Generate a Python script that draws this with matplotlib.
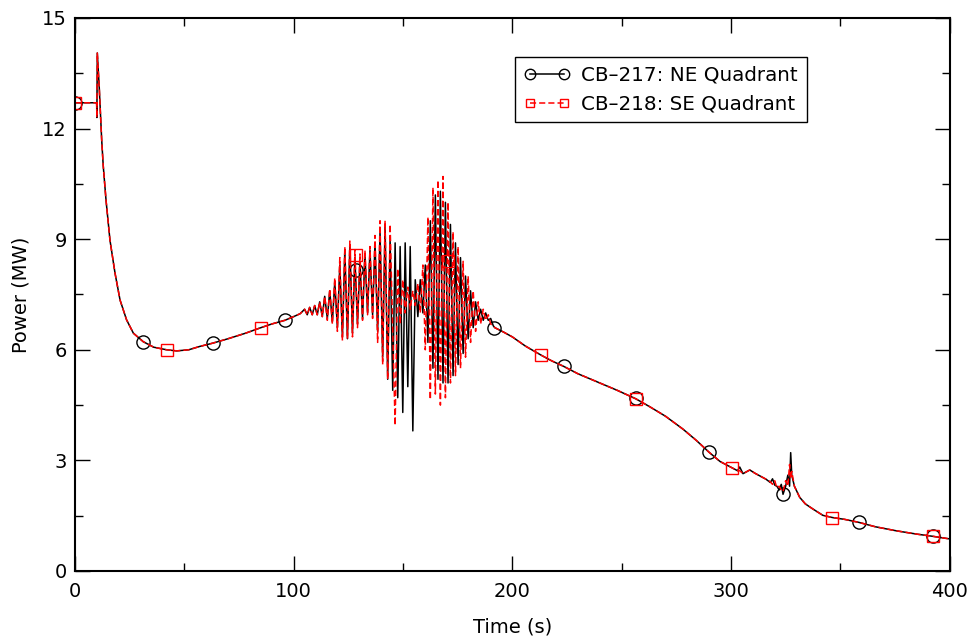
import matplotlib
matplotlib.use("Agg")
import matplotlib.pyplot as plt
from matplotlib.lines import Line2D
from matplotlib.ticker import MultipleLocator

plt.rcParams['font.family'] = ['DejaVu Sans']

# ---- shared smooth start (s, MW) ----
t_head = [0, 9.9, 10.0, 10.2, 11.1, 11.7, 12.2, 12.9, 14.2, 16.0, 18.3, 20.6, 23.6,
          26.7, 31.2, 36.0, 41.9, 46.5, 52.0, 57.0, 63.0, 70.0, 78.0, 85.0, 90.0,
          96.0, 100.0, 103.0]
p_head = [12.7, 12.7, 12.3, 14.05, 13.1, 12.3, 11.7, 11.0, 10.05, 8.97, 8.08, 7.35, 6.81,
          6.45, 6.22, 6.07, 6.0, 5.97, 6.0, 6.09, 6.18, 6.3, 6.45, 6.6, 6.7,
          6.8, 6.9, 6.98]

# ---- oscillation zone ----
t_osc = [105.0, 106.2, 107.3, 108.5, 109.6, 110.8, 111.9, 113.1, 114.2, 115.4,
         116.5, 117.7, 118.8, 120.0, 121.1, 122.3, 123.4, 124.6, 125.7, 126.9,
         128.0, 129.2, 130.3, 131.5, 132.6, 133.8, 134.9, 136.1, 137.2, 138.4,
         139.5, 140.7, 141.8, 143.0, 144.1, 145.3, 146.4, 147.6, 148.7, 149.9,
         151.0, 152.2, 153.3, 154.5, 155.6, 156.8, 157.9, 159.1, 160.2, 161.4,
         162.5, 163.7, 164.8, 166.0, 167.1, 168.3, 169.4, 170.6, 171.7, 172.9,
         174.0, 175.2, 176.3, 177.5, 178.6, 179.8, 180.9, 182.1, 183.2, 184.4,
         185.5, 186.7, 187.8, 189.0, 190.1, 191.3]
p_osc_ne = [7.10, 6.95, 7.15, 6.95, 7.2, 6.95, 7.3, 6.9, 7.45, 6.85,
            7.6, 6.75, 7.85, 6.6, 8.3, 6.35, 8.7, 6.3, 8.85, 6.45,
            8.5, 6.7, 8.4, 6.85, 8.6, 7.0, 8.7, 6.95, 8.9, 6.5,
            9.2, 5.8, 9.4, 5.2, 9.0, 4.9, 8.9, 4.7, 8.8, 4.3,
            8.9, 5.0, 8.8, 3.8, 7.9, 6.9, 7.9, 7.0, 8.3, 6.2,
            9.5, 5.5, 10.2, 5.2, 10.3, 5.1, 10.0, 5.1, 9.4, 5.3,
            8.9, 5.6, 8.5, 5.9, 8.0, 6.3, 7.6, 6.6, 7.3, 6.8,
            7.1, 6.8, 7.0, 6.8, 6.85, 6.65]
p_osc_se = [7.10, 6.95, 7.15, 6.95, 7.2, 6.95, 7.3, 6.9, 7.45, 6.8,
            7.65, 6.7, 7.95, 6.5, 8.5, 6.25, 8.8, 6.3, 8.95, 6.35,
            8.7, 6.6, 8.6, 6.8, 8.7, 6.95, 8.8, 6.85, 9.1, 6.2,
            9.5, 5.6, 9.5, 5.2, 9.4, 6.5, 3.95, 8.2, 6.7, 7.9,
            7.0, 7.7, 7.1, 7.6, 7.2, 7.8, 7.0, 8.3, 6.0, 9.6,
            4.65, 10.4, 4.8, 10.6, 4.5, 10.7, 4.7, 10.0, 5.1, 9.2,
            5.3, 8.8, 5.5, 8.4, 5.8, 8.0, 6.2, 7.6, 6.5, 7.3,
            6.7, 7.1, 6.8, 6.95, 6.7, 6.65]

# ---- tail ----
t_tail = [192.0, 196.0, 200.0, 206.0, 213.0, 218.0, 223.5, 230.0, 240.0, 248.0,
          256.5, 263.0, 270.0, 278.0, 284.0, 290.0, 295.0, 300.5, 303.0, 304.0,
          305.5, 308.6, 311.0, 316.0, 318.0, 319.0, 320.0, 321.0, 322.0, 323.0,
          323.8, 325.0, 326.0, 326.8, 327.3, 327.8, 329.0, 331.4, 334.0, 337.5,
          342.0, 346.4, 352.0, 358.4, 366.0, 375.6, 385.0, 392.4, 400.0]
p_tail_ne = [6.6, 6.48, 6.35, 6.1, 5.86, 5.7, 5.55, 5.35, 5.1, 4.9,
             4.67, 4.45, 4.2, 3.85, 3.55, 3.22, 2.97, 2.8, 2.72, 2.82,
             2.64, 2.74, 2.65, 2.49, 2.4, 2.5, 2.33, 2.3, 2.2, 2.35,
             2.08, 2.3, 2.6, 2.3, 3.21, 2.6, 2.3, 2.0, 1.82, 1.68,
             1.51, 1.45, 1.4, 1.32, 1.2, 1.09, 1.0, 0.94, 0.87]
p_tail_se = [6.6, 6.48, 6.35, 6.1, 5.86, 5.7, 5.55, 5.35, 5.1, 4.9,
             4.67, 4.45, 4.2, 3.85, 3.55, 3.22, 2.97, 2.8, 2.72, 2.72,
             2.64, 2.74, 2.65, 2.49, 2.42, 2.35, 2.45, 2.25, 2.3, 2.2,
             2.15, 2.45, 2.3, 2.89, 2.5, 2.7, 2.3, 2.0, 1.82, 1.68,
             1.51, 1.45, 1.4, 1.32, 1.2, 1.09, 1.0, 0.94, 0.87]

# ---- markers ----
mk_ne_t = [0, 31.2, 63.0, 96.0, 128.5, 191.5, 223.5, 256.5, 289.8, 323.8, 358.4, 392.4]
mk_ne_p = [12.7, 6.22, 6.18, 6.81, 8.16, 6.6, 5.55, 4.68, 3.22, 2.08, 1.32, 0.94]
mk_se_t = [0, 41.9, 85.0, 128.5, 170.5, 213.0, 256.5, 300.5, 346.4, 392.4]
mk_se_p = [12.7, 6.0, 6.6, 8.57, 8.4, 5.86, 4.67, 2.8, 1.45, 0.94]

labels = ["CB\u2013217: NE Quadrant", "CB\u2013218: SE Quadrant"]

t_ne = t_head + t_osc + t_tail
p_ne = p_head + p_osc_ne + p_tail_ne
t_se = t_head + t_osc + t_tail
p_se = p_head + p_osc_se + p_tail_se

fig = plt.figure(figsize=(9.74, 6.42), dpi=100)
ax = fig.add_axes([0.077, 0.1106, 0.898, 0.8614])

ax.plot(t_ne, p_ne, color='black', lw=1.1)
ax.plot(mk_ne_t, mk_ne_p, ls='none', marker='o', ms=9.5, mfc='none', mec='black', mew=1.0)
ax.plot(t_se, p_se, color='red', lw=1.1, ls=(0, (4, 2)))
ax.plot(mk_se_t, mk_se_p, ls='none', marker='s', ms=8, mfc='none', mec='red', mew=1.0)

ax.set_xlim(0, 400)
ax.set_ylim(0, 15)
ax.xaxis.set_major_locator(MultipleLocator(100))
ax.xaxis.set_minor_locator(MultipleLocator(50))
ax.yaxis.set_major_locator(MultipleLocator(3))
ax.yaxis.set_minor_locator(MultipleLocator(1.5))
ax.tick_params(which='both', direction='in', top=True, right=True, width=1.0, labelsize=14)
ax.tick_params(which='major', length=11)
ax.tick_params(which='minor', length=5.5)
ax.tick_params(axis='x', pad=8)
ax.tick_params(axis='y', pad=6)
for s in ax.spines.values():
    s.set_linewidth(1.5)

ax.set_xlabel("Time (s)", fontsize=14, labelpad=12)
ax.set_ylabel("Power (MW)", fontsize=14, labelpad=8)

h1 = Line2D([], [], color='black', lw=1.1, marker='o', ms=7.5, mfc='none', mec='black')
h2 = Line2D([], [], color='red', lw=1.1, ls=(0, (4, 2)), marker='s', ms=6, mfc='none', mec='red')
leg = ax.legend([h1, h2], labels, loc='upper left', bbox_to_anchor=(0.503, 0.93),
                fontsize=14.3, numpoints=2, handlelength=2.3, handletextpad=0.6,
                labelspacing=0.5, borderpad=0.45, borderaxespad=0.0,
                fancybox=False, framealpha=1, edgecolor='black')
leg.get_frame().set_linewidth(1.0)

fig.savefig("out.png", dpi=100)
